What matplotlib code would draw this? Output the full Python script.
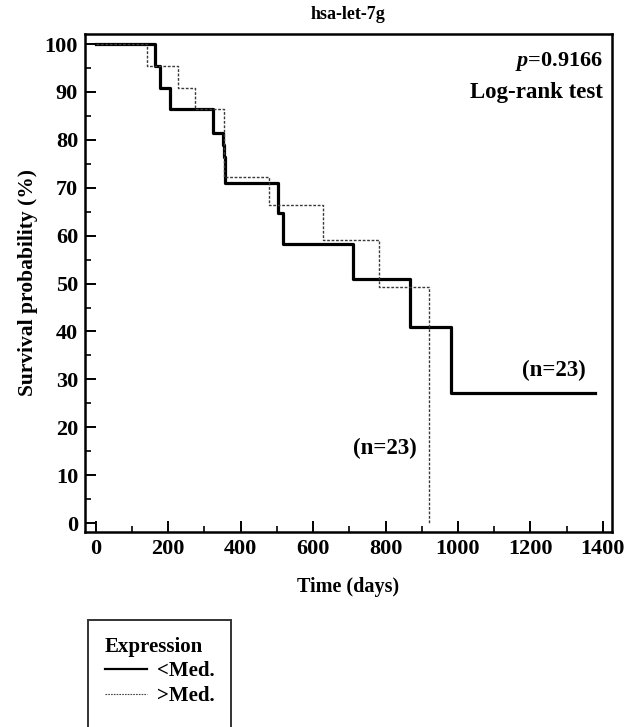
import matplotlib
matplotlib.use("Agg")
import matplotlib.pyplot as plt
from matplotlib.ticker import MultipleLocator
from matplotlib.lines import Line2D

plt.rcParams['font.family'] = ['Liberation Serif', 'DejaVu Serif']
plt.rcParams['font.weight'] = 'bold'
plt.rcParams['mathtext.fontset'] = 'custom'
plt.rcParams['mathtext.it'] = 'Liberation Serif:italic:bold'
plt.rcParams['mathtext.rm'] = 'Liberation Serif:bold'

# Kaplan-Meier steps (time in days, survival in %)
low_t = [0, 163, 177, 206, 324, 350, 353, 358, 504, 517, 709, 867, 980, 1378]
low_s = [100, 95.5, 90.8, 86.4, 81.4, 78.9, 76.5, 71.0, 64.8, 58.2, 51.0, 40.9, 27.2, 27.2]

high_t = [0, 140, 226, 273, 354, 479, 626, 781, 921]
high_s = [100, 95.5, 90.8, 86.4, 72.2, 66.4, 59.0, 49.2, 0]

title = "hsa-let-7g"
p_value = "0.9166"
n_low = "(n=23)"
n_high = "(n=23)"

fig = plt.figure(figsize=(6.39, 7.27), dpi=100)
ax = fig.add_axes([0.133, 0.2686, 0.824, 0.6846])

ax.step(low_t, low_s, where='post', color='black', lw=2.3)
ax.step(high_t, high_s, where='post', color='#3a3a3a', lw=1.0,
        linestyle=(0, (2, 1.2)))

ax.set_xlim(-30, 1424)
ax.set_ylim(-1.8, 102.1)
ax.xaxis.set_major_locator(MultipleLocator(200))
ax.xaxis.set_minor_locator(MultipleLocator(100))
ax.yaxis.set_major_locator(MultipleLocator(10))
ax.yaxis.set_minor_locator(MultipleLocator(5))
ax.tick_params(which='major', direction='in', length=8, width=1.4,
               labelsize=16, pad=5)
ax.tick_params(which='minor', direction='in', length=4.5, width=1.2)
for sp in ax.spines.values():
    sp.set_linewidth(1.8)

ax.set_xlabel("Time (days)", fontsize=14.5, fontweight='bold', labelpad=13)
ax.set_ylabel("Survival probability (%)", fontsize=15.5, fontweight='bold', labelpad=5)
ax.set_title(title, fontsize=13, fontweight='bold', pad=11)

ax.text(0.983, 0.945, "$p$=" + p_value, transform=ax.transAxes,
        ha='right', va='center', fontsize=16, fontweight='bold')
ax.text(0.983, 0.882, "Log-rank test", transform=ax.transAxes,
        ha='right', va='center', fontsize=16.5, fontweight='bold')
ax.text(1265, 31.8, n_low, ha='center', va='center', fontsize=16.5, fontweight='bold')
ax.text(797, 15.6, n_high, ha='center', va='center', fontsize=16.5, fontweight='bold')

handles = [Line2D([], [], color='black', lw=1.6),
           Line2D([], [], color='#444444', lw=0.8, linestyle=(0, (1.5, 1))),
           Line2D([], [], color='none')]
leg = fig.legend(handles, ["<Med.", ">Med.", " "], title="Expression",
                 loc='upper left', bbox_to_anchor=(0.138, 0.147),
                 borderaxespad=0,
                 fontsize=15, title_fontsize=15, frameon=True, fancybox=False,
                 edgecolor='#333333', framealpha=1, handlelength=2.0,
                 handletextpad=0.5, borderpad=0.8, labelspacing=0.22,
                 alignment='left')
leg.get_frame().set_linewidth(1.4)
leg.get_title().set_fontweight('bold')

fig.savefig("out.png", dpi=100)
